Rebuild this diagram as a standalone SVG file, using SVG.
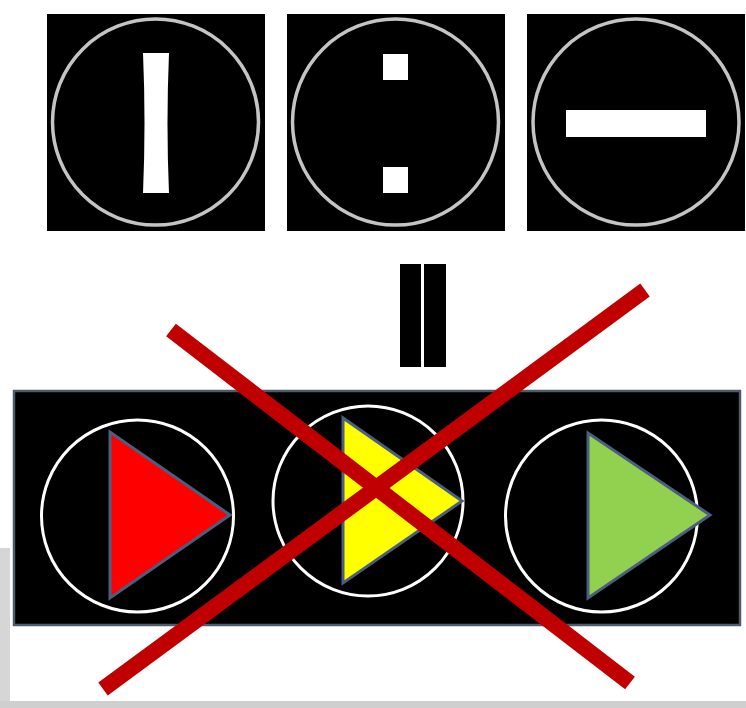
<svg xmlns="http://www.w3.org/2000/svg" width="746" height="708" viewBox="0 0 746 708">
<style>
.panel{fill:#000}
.ring{fill:none;stroke:#c4c4c4;stroke-width:3.5}
.wring{fill:none;stroke:#fff;stroke-width:3}
.glyph{fill:#fff}
.tri{stroke:#4a5f80;stroke-width:3;stroke-linejoin:miter}
.cross{stroke:#c00000;stroke-width:16;stroke-linecap:butt}
</style>
<rect width="746" height="708" fill="#fff"/>
<rect x="0" y="548" width="10" height="160" fill="#d6d6d6"/>
<rect x="0" y="701" width="746" height="7" fill="#cfcfcf"/>
<g id="icon-pause">
<rect class="panel" x="47" y="14" width="218" height="217"/>
<circle class="ring" cx="155.5" cy="122" r="103"/>
<path class="glyph" d="M143,53 L169,53 Q166,123 169,193 L143,193 Q146,123 143,53 Z"/>
</g>
<g id="icon-colon">
<rect class="panel" x="287" y="14" width="218" height="217"/>
<circle class="ring" cx="395.5" cy="122" r="103"/>
<rect class="glyph" x="383" y="54" width="25" height="26"/>
<rect class="glyph" x="383" y="167" width="25" height="26"/>
</g>
<g id="icon-minus">
<rect class="panel" x="527" y="14" width="218" height="217"/>
<circle class="ring" cx="636" cy="122" r="103"/>
<path class="glyph" d="M566,110 L706,110 L706,137 L566,137 Z"/>
</g>
<g id="equals">
<rect x="400" y="264" width="21" height="103" fill="#000"/>
<rect x="424" y="264" width="22" height="103" fill="#000"/>
</g>
<g id="signals">
<rect x="14" y="391" width="726" height="234" fill="#000" stroke="#4d5b6b" stroke-width="2.5"/>
<circle class="wring" cx="137.5" cy="516" r="96"/>
<polygon class="tri" points="110,432 110,598 230,515" fill="#ff0000"/>
<circle class="wring" cx="368" cy="501" r="95"/>
<polygon class="tri" points="343,418 343,583 462,501" fill="#ffff00"/>
<circle class="wring" cx="601.5" cy="516" r="96"/>
<polygon class="tri" points="588,433 588,598 710,515" fill="#92d050"/>
</g>
<g id="connectors">
<line class="cross" x1="171" y1="330" x2="630" y2="683"/>
<line class="cross" x1="645" y1="290" x2="103" y2="689"/>
</g>
</svg>
